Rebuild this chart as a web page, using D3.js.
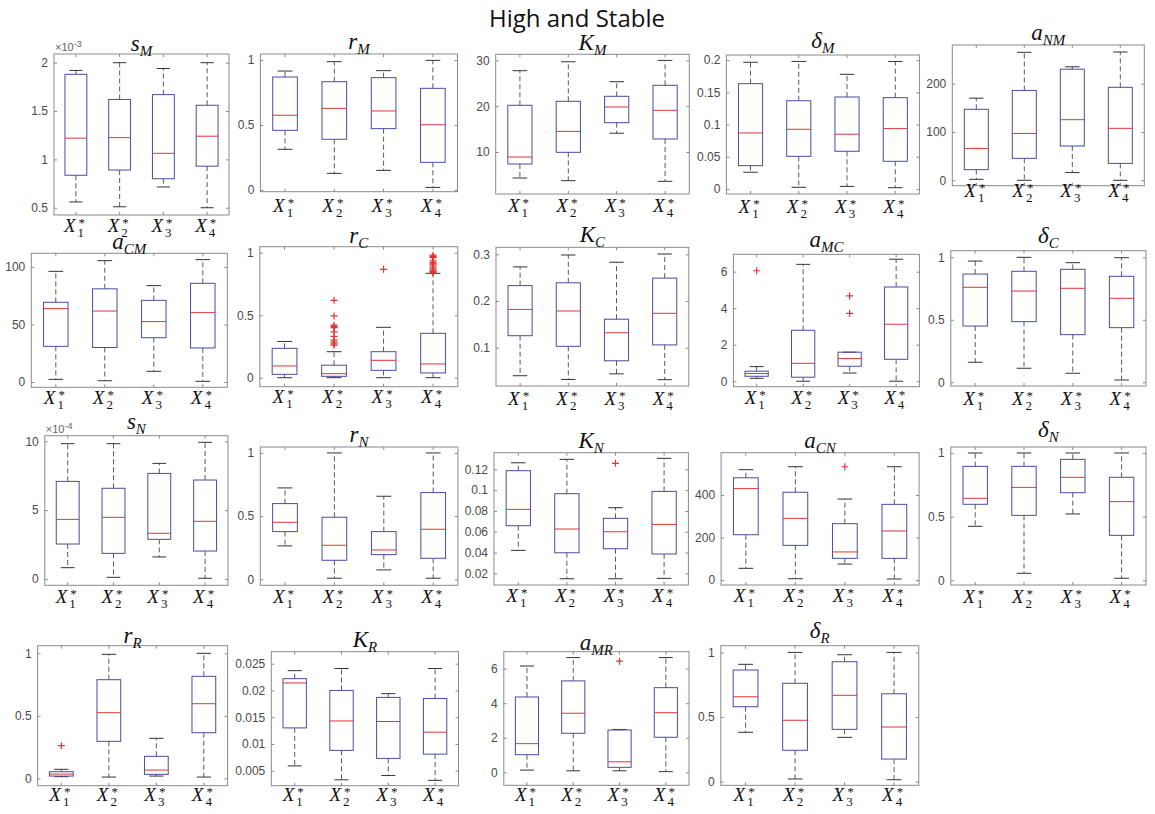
<!DOCTYPE html>
<html>
<head>
<meta charset="utf-8">
<script src="https://cdn.jsdelivr.net/npm/d3@7"></script>
<style>
  body { margin: 0; background: #fff; }
  svg { display: block; }
</style>
</head>
<body>
<svg id="chart" width="1155" height="814"></svg>
<script>
// Groups along every x axis: X1*, X2*, X3*, X4*
const groups = [1, 2, 3, 4];

// Box summaries per group: [lower whisker, Q1, median, Q3, upper whisker]
const sM  = [[0.56, 0.836, 1.22, 1.88, 1.92], [0.51, 0.89, 1.225, 1.62, 2.0], [0.715, 0.80, 1.063, 1.67, 1.94], [0.50, 0.93, 1.24, 1.56, 2.0]]; // x10^-3
const rM  = [[0.313, 0.459, 0.575, 0.869, 0.915], [0.128, 0.39, 0.628, 0.833, 0.987], [0.151, 0.472, 0.608, 0.864, 0.918], [0.02, 0.213, 0.502, 0.782, 0.997]];
const KM  = [[4.32, 7.38, 8.9, 20.2, 27.75], [3.74, 9.93, 14.5, 21.07, 29.7], [14.1, 16.4, 19.83, 22.16, 25.35], [3.6, 12.84, 19.1, 24.56, 30.0]];
const dM  = [[0.026, 0.0362, 0.087, 0.1635, 0.1967], [0.0026, 0.0507, 0.0927, 0.137, 0.198], [0.004, 0.0585, 0.085, 0.1428, 0.178], [0.002, 0.043, 0.0937, 0.1418, 0.198]];
const aNM = [[2, 22, 66, 147, 170], [0, 45.5, 97, 186, 265], [16, 71, 125.5, 230, 235], [0, 35, 107.6, 192.5, 265.6]];

const aCM = [[2.3, 31, 63.8, 69.3, 96.2], [1.1, 30, 61.7, 81, 105.5], [9.3, 38.5, 52.5, 71, 83.8], [0.6, 29.6, 60.3, 85.8, 106.4]];
const rC  = [[0, 0.027, 0.094, 0.235, 0.29], [0, 0.011, 0.032, 0.1, 0.208], [0, 0.059, 0.139, 0.208, 0.403], [0, 0.038, 0.11, 0.355, 0.835]];
const KC  = [[0.040, 0.1257, 0.182, 0.233, 0.273], [0.032, 0.103, 0.1786, 0.239, 0.2985], [0.044, 0.072, 0.132, 0.161, 0.283], [0.0315, 0.106, 0.1737, 0.249, 0.3006]];
const aMC = [[0.16, 0.27, 0.42, 0.55, 0.8], [0, 0.22, 0.98, 2.79, 6.4], [0.45, 0.82, 1.24, 1.59, 1.59], [0, 1.2, 3.12, 5.16, 6.68]];
const dC  = [[0.16, 0.45, 0.76, 0.866, 0.97], [0.112, 0.485, 0.73, 0.888, 1.0], [0.072, 0.381, 0.752, 0.904, 0.957], [0.018, 0.437, 0.672, 0.848, 0.997]];

const sN  = [[0.82, 2.54, 4.33, 7.09, 9.83], [0.12, 1.86, 4.48, 6.59, 9.83], [1.6, 2.88, 3.32, 7.67, 8.4], [0.05, 2.03, 4.19, 7.19, 9.93]]; // x10^-4
const rN  = [[0.264, 0.377, 0.451, 0.599, 0.723], [0.008, 0.15, 0.269, 0.491, 1.0], [0.074, 0.195, 0.232, 0.377, 0.657], [0.008, 0.166, 0.396, 0.686, 1.0]];
const KN  = [[0.0421, 0.0658, 0.0815, 0.1187, 0.1263], [0.0148, 0.0398, 0.0626, 0.0966, 0.1296], [0.0148, 0.0437, 0.06, 0.0729, 0.0831], [0.0152, 0.0386, 0.0671, 0.0988, 0.1306]];
const aCN = [[55, 213, 430, 481, 519], [6, 163, 290, 413, 533], [75, 102, 132, 265, 381], [4.7, 102, 230.6, 356, 533]];
const dN  = [[0.424, 0.597, 0.644, 0.895, 1.0], [0.055, 0.51, 0.73, 0.895, 1.0], [0.521, 0.688, 0.809, 0.95, 1.0], [0.016, 0.353, 0.618, 0.809, 1.0]];

const rR  = [[0.013, 0.018, 0.034, 0.053, 0.072], [0.01, 0.296, 0.525, 0.789, 0.992], [0.018, 0.032, 0.066, 0.176, 0.32], [0.01, 0.365, 0.597, 0.816, 1.0]];
const KR  = [[0.0059, 0.013, 0.0214, 0.0222, 0.0237], [0.0033, 0.0088, 0.0143, 0.02, 0.0241], [0.0041, 0.0073, 0.0142, 0.0187, 0.0194], [0.0032, 0.0081, 0.0122, 0.0185, 0.0241]];
const aMR = [[0.13, 1.02, 1.66, 4.36, 6.15], [0.09, 2.26, 3.42, 5.29, 6.64], [0.09, 0.29, 0.61, 2.45, 2.48], [0.04, 2.03, 3.45, 4.9, 6.64]];
const dR  = [[0.382, 0.58, 0.657, 0.864, 0.908], [0.021, 0.243, 0.475, 0.761, 1.0], [0.343, 0.405, 0.668, 0.928, 0.982], [0.015, 0.175, 0.423, 0.68, 1.0]];

// Outliers per group
const rC_out  = [[], [0.619, 0.494, 0.42, 0.41, 0.40, 0.366, 0.33, 0.30, 0.285, 0.27, 0.26], [0.867], [0.98, 0.97, 0.96, 0.935, 0.92, 0.91, 0.90, 0.885, 0.87, 0.86, 0.85, 0.84]];
const aMC_out = [[6.05], [], [4.67, 3.72], []];
const KN_out  = [[], [], [0.1258], []];
const aCN_out = [[], [], [533], []];
const rR_out  = [[0.261], [], [], []];
const aMR_out = [[], [], [6.43], []];

// Y tick values per panel
const ticks01   = [0, 0.5, 1];
const sM_ticks  = [0.5, 1, 1.5, 2];
const KM_ticks  = [10, 20, 30];
const dM_ticks  = [0, 0.05, 0.1, 0.15, 0.2];
const aNM_ticks = [0, 100, 200];
const aCM_ticks = [0, 50, 100];
const KC_ticks  = [0.1, 0.2, 0.3];
const a6_ticks  = [0, 2, 4, 6];
const sN_ticks  = [0, 5, 10];
const KN_ticks  = [0.02, 0.04, 0.06, 0.08, 0.1, 0.12];
const aCN_ticks = [0, 200, 400];
const KR_ticks  = [0.005, 0.01, 0.015, 0.02, 0.025];

// Panel definitions: symbol, subscript, stats, outliers, y domain, ticks, exponent
const panels = [
  { sym: "s", sub: "M",  stats: sM,  out: null,    dom: [0.425, 2.09],    ticks: sM_ticks,  exp: "-3" },
  { sym: "r", sub: "M",  stats: rM,  out: null,    dom: [-0.013, 1.046],  ticks: ticks01 },
  { sym: "K", sub: "M",  stats: KM,  out: null,    dom: [0.83, 31.33],    ticks: KM_ticks },
  { sym: "δ", sub: "M",  stats: dM,  out: null,    dom: [-0.0078, 0.208], ticks: dM_ticks },
  { sym: "a", sub: "NM", stats: aNM, out: null,    dom: [-11.2, 280.1],   ticks: aNM_ticks },
  { sym: "a", sub: "CM", stats: aCM, out: null,    dom: [-4.6, 111.9],    ticks: aCM_ticks },
  { sym: "r", sub: "C",  stats: rC,  out: rC_out,  dom: [-0.072, 1.048],  ticks: ticks01 },
  { sym: "K", sub: "C",  stats: KC,  out: null,    dom: [0.018, 0.315],   ticks: KC_ticks },
  { sym: "a", sub: "MC", stats: aMC, out: aMC_out, dom: [-0.3, 6.95],     ticks: a6_ticks },
  { sym: "δ", sub: "C",  stats: dC,  out: null,    dom: [-0.03, 1.053],   ticks: ticks01 },
  { sym: "s", sub: "N",  stats: sN,  out: null,    dom: [-0.46, 10.41],   ticks: sN_ticks,  exp: "-4" },
  { sym: "r", sub: "N",  stats: rN,  out: null,    dom: [-0.048, 1.047],  ticks: ticks01 },
  { sym: "K", sub: "N",  stats: KN,  out: KN_out,  dom: [0.0088, 0.136],  ticks: KN_ticks },
  { sym: "a", sub: "CN", stats: aCN, out: aCN_out, dom: [-23.5, 599],     ticks: aCN_ticks },
  { sym: "δ", sub: "N",  stats: dN,  out: null,    dom: [-0.037, 1.047],  ticks: ticks01 },
  { sym: "r", sub: "R",  stats: rR,  out: rR_out,  dom: [-0.059, 1.061],  ticks: ticks01 },
  { sym: "K", sub: "R",  stats: KR,  out: null,    dom: [0.0022, 0.02724], ticks: KR_ticks },
  { sym: "a", sub: "MR", stats: aMR, out: aMR_out, dom: [-0.75, 6.98],    ticks: a6_ticks },
  { sym: "δ", sub: "R",  stats: dR,  out: null,    dom: [-0.028, 1.052],  ticks: ticks01 }
];

// Axes frames: [left, right, top, bottom, title baseline, x-label baseline]
const frames = [
  [54, 229, 54, 215, 51, 232],
  [260.4, 457.5, 54, 191.7, 48.5, 212],
  [495.7, 689.3, 54.3, 194, 49.5, 212],
  [726.4, 919.4, 55, 194, 48, 213],
  [952.3, 1144.3, 45, 185.7, 39.5, 197],
  [31.3, 227.3, 253.3, 387.3, 249, 404],
  [259.8, 457.8, 246.7, 386.7, 243, 403],
  [496, 688.8, 247.3, 386, 241.7, 405],
  [733.4, 919.4, 254.3, 386.7, 247.3, 404],
  [950.8, 1146, 250.7, 386, 243.3, 405],
  [44.8, 228, 435.7, 585.3, 429.3, 603],
  [260.3, 457.9, 447, 585.3, 441.7, 603],
  [494, 688.4, 452.7, 585, 448.3, 602],
  [721.1, 919.1, 452.7, 585, 448.3, 602],
  [950.8, 1146, 447, 585, 436.7, 603],
  [37.6, 227.6, 645.7, 785.7, 643.3, 801],
  [271.3, 458.5, 651.7, 785.7, 646.7, 801],
  [503.8, 689, 651.7, 785.3, 650, 801],
  [720.8, 918.8, 645.7, 785.3, 638.3, 801]
];

const C = {
  frame: "#8a8a8a",
  tickText: "#4a4a4a",
  box: "#4b4ba3",
  median: "#e03535",
  whisker: "#5a5a5a",
  cap: "#333333",
  outlier: "#e03535"
};
const mathFont = "'Liberation Serif', 'Times New Roman', serif";
const axisFont = "'Liberation Sans', Arial, sans-serif";
const fmt = d => String(+d.toFixed(6));

const svg = d3.select("#chart");

// Figure title
const mainTitle = svg.append("text")
  .attr("x", 577).attr("y", 27)
  .attr("text-anchor", "middle")
  .attr("font-family", "'Open Sans', 'Noto Sans', sans-serif")
  .attr("font-size", 23)
  .attr("fill", "#111")
  .text("High and Stable");
const tw = mainTitle.node().getComputedTextLength();
mainTitle.attr("font-size", Math.min(24, 23 * 206 / tw));

panels.forEach((p, i) => {
  const [x0, x1, y0, y1, titleY, labelY] = frames[i];
  const g = svg.append("g");

  const x = d3.scaleBand().domain(groups).range([x0, x1]).padding(0);
  const y = d3.scaleLinear().domain(p.dom).range([y1, y0]);
  const bw = x.bandwidth();
  const cx = d => x(d) + bw / 2;

  // Plot area
  g.append("rect")
    .attr("x", x0).attr("y", y0)
    .attr("width", x1 - x0).attr("height", y1 - y0)
    .attr("fill", "#fff");

  // Axes with inward ticks on all four sides
  const styleAxis = sel => {
    sel.select(".domain").remove();
    sel.selectAll(".tick line").attr("stroke", C.frame);
    sel.selectAll(".tick text")
      .attr("fill", C.tickText)
      .attr("font-family", axisFont)
      .attr("font-size", 12);
  };
  g.append("g").attr("transform", `translate(${x0},0)`)
    .call(d3.axisLeft(y).tickValues(p.ticks).tickSize(-3).tickPadding(6).tickFormat(fmt))
    .call(styleAxis);
  g.append("g").attr("transform", `translate(${x1},0)`)
    .call(d3.axisRight(y).tickValues(p.ticks).tickSize(-3).tickFormat(""))
    .call(styleAxis);
  g.append("g").attr("transform", `translate(0,${y1})`)
    .call(d3.axisBottom(x).tickSize(-3).tickFormat(""))
    .call(styleAxis);
  g.append("g").attr("transform", `translate(0,${y0})`)
    .call(d3.axisTop(x).tickSize(-3).tickFormat(""))
    .call(styleAxis);

  g.append("rect")
    .attr("x", x0).attr("y", y0)
    .attr("width", x1 - x0).attr("height", y1 - y0)
    .attr("fill", "none").attr("stroke", C.frame).attr("stroke-width", 1);

  // Exponent label
  if (p.exp) {
    const e = g.append("text")
      .attr("x", x0 + 1).attr("y", y0 - 3)
      .attr("font-family", axisFont).attr("font-size", 11)
      .attr("fill", "#666");
    e.append("tspan").text("×10");
    e.append("tspan").attr("dy", -4).attr("font-size", 9).text(p.exp);
  }

  // Boxes
  const data = groups.map((d, k) => ({ g: d, s: p.stats[k], o: p.out ? p.out[k] : [] }));
  const bx = g.selectAll(".bx").data(data).join("g").attr("class", "bx");
  const boxW = bw * 0.5;
  const capW = bw * 0.3;

  // Whiskers (dashed)
  bx.append("line")
    .attr("x1", d => cx(d.g)).attr("x2", d => cx(d.g))
    .attr("y1", d => y(d.s[3])).attr("y2", d => y(d.s[4]))
    .attr("stroke", C.whisker).attr("stroke-dasharray", "5,3");
  bx.append("line")
    .attr("x1", d => cx(d.g)).attr("x2", d => cx(d.g))
    .attr("y1", d => y(d.s[1])).attr("y2", d => y(d.s[0]))
    .attr("stroke", C.whisker).attr("stroke-dasharray", "5,3");
  // Whisker caps
  [0, 4].forEach(j => {
    bx.append("line")
      .attr("x1", d => cx(d.g) - capW / 2).attr("x2", d => cx(d.g) + capW / 2)
      .attr("y1", d => y(d.s[j])).attr("y2", d => y(d.s[j]))
      .attr("stroke", C.cap);
  });
  // Box
  bx.append("rect")
    .attr("x", d => cx(d.g) - boxW / 2).attr("width", boxW)
    .attr("y", d => y(d.s[3])).attr("height", d => y(d.s[1]) - y(d.s[3]))
    .attr("fill", "none").attr("stroke", C.box).attr("stroke-width", 1);
  // Median
  bx.append("line")
    .attr("x1", d => cx(d.g) - boxW / 2).attr("x2", d => cx(d.g) + boxW / 2)
    .attr("y1", d => y(d.s[2])).attr("y2", d => y(d.s[2]))
    .attr("stroke", C.median).attr("stroke-width", 1);
  // Outliers
  bx.selectAll(".out").data(d => d.o.map(v => ({ g: d.g, v }))).join("path")
    .attr("class", "out")
    .attr("d", d => {
      const px = cx(d.g), py = y(d.v), r = 3.5;
      return `M${px - r},${py}H${px + r}M${px},${py - r}V${py + r}`;
    })
    .attr("stroke", C.outlier).attr("stroke-width", 1.2).attr("fill", "none");

  // Panel title
  const t = g.append("text")
    .attr("x", (x0 + x1) / 2).attr("y", titleY)
    .attr("text-anchor", "middle")
    .attr("font-family", mathFont).attr("font-style", "italic")
    .attr("font-size", 23).attr("fill", "#111");
  t.append("tspan").text(p.sym);
  t.append("tspan").attr("dy", 5).attr("font-size", 15).text(p.sub);

  // Group labels X_k^*
  groups.forEach(d => {
    const c = cx(d);
    const lab = g.append("text")
      .attr("x", c - 12).attr("y", labelY)
      .attr("font-family", mathFont)
      .attr("fill", "#111");
    lab.append("tspan").attr("font-style", "italic").attr("font-size", 19).text("X");
    lab.append("tspan").attr("dx", 2).attr("dy", 5).attr("font-size", 13).text(d);
    lab.append("tspan").attr("dx", -5.5).attr("dy", -10).attr("font-size", 13).text("*");
  });
});
</script>
</body>
</html>
